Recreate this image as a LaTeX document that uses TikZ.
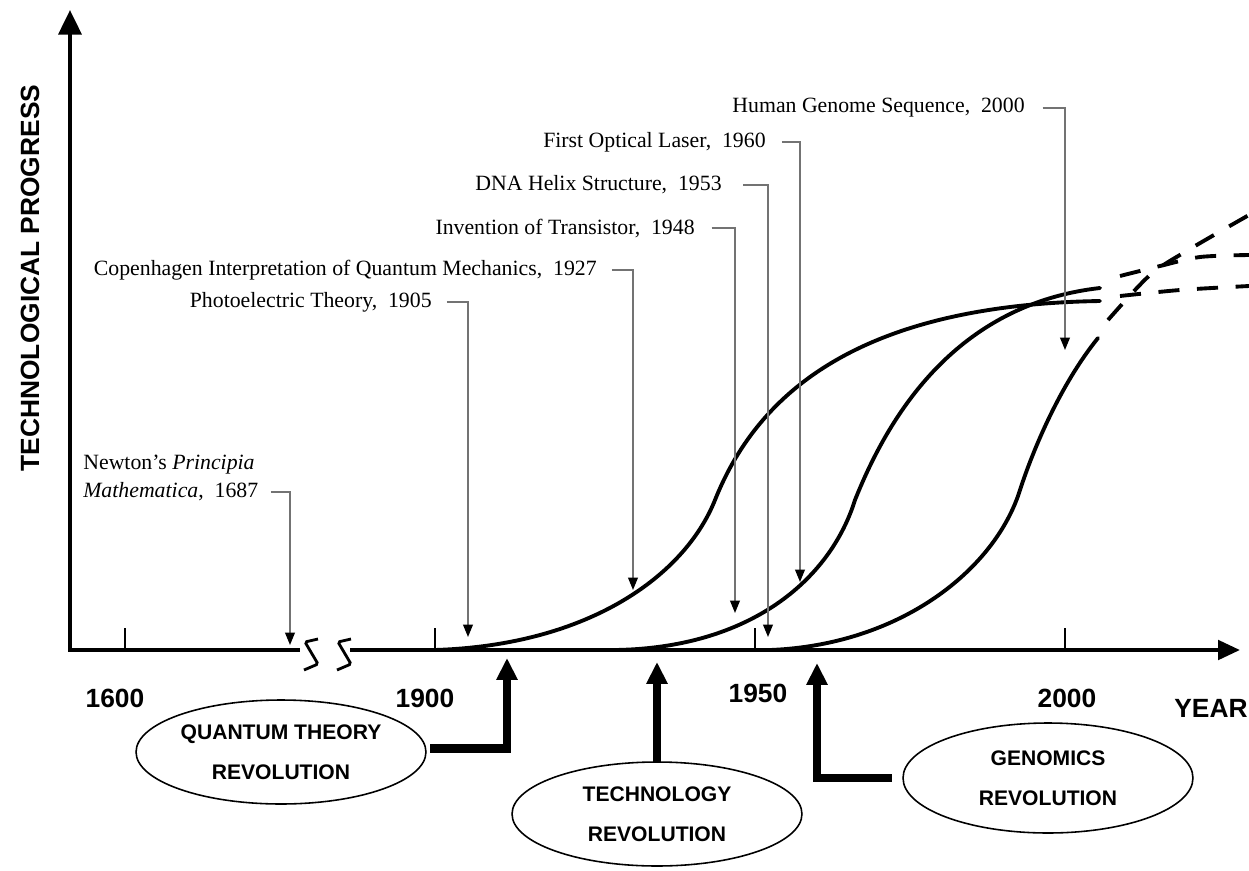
\documentclass[tikz,border=0pt]{standalone}
\usepackage{fontspec}
\setmainfont{Liberation Serif}
\newfontfamily\axfont{Liberation Sans}
\usetikzlibrary{arrows.meta,shapes.geometric}
\begin{document}
\begin{tikzpicture}[x=0.02cm,y=-0.02cm,
  evlabel/.style={inner sep=0pt,font=\fontsize{12.4}{14}\selectfont},
  evline/.style={draw=black!55,line width=0.85pt,-{Triangle[width=5.5pt,length=7pt,color=black]}},
  axisline/.style={line width=2.3pt},
  tickmark/.style={line width=1.4pt},
  brk/.style={line width=1.6pt,rounded corners=1pt},
  yearlab/.style={font=\axfont\bfseries\fontsize{15}{18}\selectfont},
  scurve/.style={line width=2.2pt,line cap=round},
  future/.style={line width=2.2pt,dash pattern=on 12pt off 10pt},
  revnode/.style={ellipse,draw,line width=0.9pt,inner sep=0pt,minimum width=5.8cm,minimum height=2.08cm,align=center,font=\axfont\bfseries\fontsize{12}{22.7}\selectfont},
  revarrow/.style={line width=5pt,-{Triangle[width=11.5pt,length=12.5pt]}},
]
\path[use as bounding box,fill=white] (0,0) rectangle (1249,870);

% axes
\coordinate (O) at (70,650);
\coordinate (ytop) at (70,10);
\coordinate (xend) at (1240,650);
\coordinate (brkL) at (300,650);
\coordinate (brkR) at (350,650);
\draw[axisline,{Triangle[width=13pt,length=14pt]}-] (ytop) -- (O) -- (brkL);
\draw[axisline,-{Triangle[width=11pt,length=12.5pt]}] (brkR) -- (xend);
\draw[brk] (318,639) -- (305,642) -- (318,664) -- (304,670);
\draw[brk] (351,639) -- (338,642) -- (351,664) -- (337,670);
\foreach \x in {125,435,755,1065} \draw[tickmark] (\x,650) -- (\x,628);

\node[yearlab] (y1600) at (115,698) {1600};
\node[yearlab] (y1900) at (425,698) {1900};
\node[yearlab] (y1950) at (758,693) {1950};
\node[yearlab] (y2000) at (1067,698) {2000};
\node[yearlab,anchor=west,inner sep=0pt] (yyear) at (1174,708) {YEAR};
\node[yearlab,rotate=90] (ylab) at (30,278) {TECHNOLOGICAL PROGRESS};

% S-curves
\draw[scurve] (435,650) .. controls (590,645) and (685,575) .. (715,500)
  .. controls (755,400) and (850,305) .. (1100,301);
\draw[scurve] (615,650) .. controls (750,648) and (830,580) .. (855,500)
  .. controls (885,425) and (950,305) .. (1100,288);
\draw[scurve] (770,650) .. controls (900,645) and (995,570) .. (1020,490)
  .. controls (1033,450) and (1060,385) .. (1098,338);
\draw[future] plot[smooth] coordinates {(1120,296) (1180,290) (1249,286)};
\draw[future] plot[smooth] coordinates {(1120,276) (1160,266) (1200,257) (1249,255)};
\draw[future] plot[smooth] coordinates {(1108,320) (1150,275) (1190,249) (1249,215)};

% events
\node[evlabel,anchor=east] (hg) at (1025,108) {Human Genome Sequence,~~2000};
\coordinate (hgT) at (1065,350);
\draw[evline] ([xshift=10pt]hg.east) -| (hgT);

\node[evlabel,anchor=east] (ls) at (766,142) {First Optical Laser,~~1960};
\coordinate (lsT) at (800,582);
\draw[evline] ([xshift=9pt]ls.east) -| (lsT);

\node[evlabel,anchor=east] (dna) at (722,185) {DNA Helix Structure,~~1953};
\coordinate (dnaT) at (768,637);
\draw[evline] ([xshift=12pt]dna.east) -| (dnaT);

\node[evlabel,anchor=east] (tra) at (695,228) {Invention of Transistor,~~1948};
\coordinate (traT) at (735,613);
\draw[evline] ([xshift=9.5pt]tra.east) -| (traT);

\node[evlabel,anchor=east] (cop) at (597,270) {Copenhagen Interpretation of Quantum Mechanics,~~1927};
\coordinate (copT) at (633,590);
\draw[evline] ([xshift=8.5pt]cop.east) -| (copT);

\node[evlabel,anchor=east] (pho) at (432,302) {Photoelectric Theory,~~1905};
\coordinate (phoT) at (468,637);
\draw[evline] ([xshift=8.5pt]pho.east) -| (phoT);

\node[evlabel,anchor=west] (nw1) at (83,465) {Newton's \textit{Principia}};
\node[evlabel,anchor=west] (nw2) at (83,492) {\textit{Mathematica},~~1687};
\coordinate (nwT) at (290,645);
\draw[evline] ([xshift=7pt]nw2.east) -| (nwT);

% revolutions
\node[revnode] (qt) at (281,752) {QUANTUM THEORY\\REVOLUTION};
\node[revnode] (tr) at (657,814) {TECHNOLOGY\\REVOLUTION};
\node[revnode,minimum height=2.2cm] (gr) at (1048,778) {GENOMICS\\REVOLUTION};
\coordinate (qtT) at (507,658);
\coordinate (trT) at (657,662);
\coordinate (grT) at (817,663);
\draw[revarrow] ([xshift=2pt,yshift=2pt]qt.east) -| (qtT);
\draw[revarrow] (tr.north) -- (trT);
\draw[revarrow] ([xshift=-6pt]gr.west) -| (grT);
\end{tikzpicture}
\end{document}
